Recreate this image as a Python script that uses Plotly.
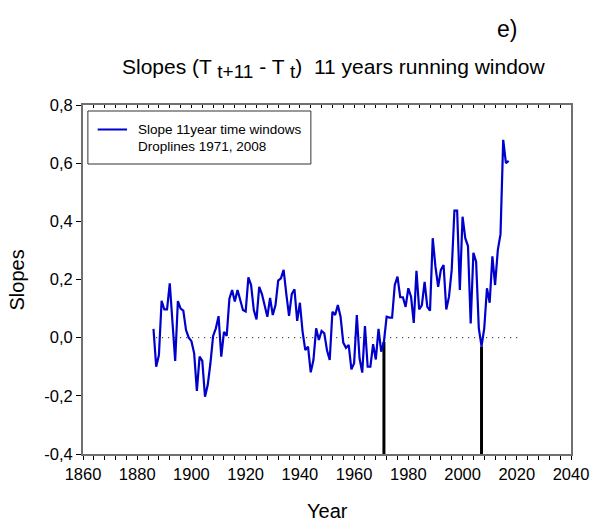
import plotly.graph_objects as go

# ---- data ----
years = list(range(1886, 2018))
slopes = [
    0.03, -0.10, -0.06, 0.127, 0.097, 0.097, 0.187, 0.038, -0.08, 0.126,   # 1886-1895
    0.10, 0.093, 0.026, 0.0, -0.012, -0.054, -0.183, -0.065, -0.08, -0.203,  # 1896-1905
    -0.163, -0.088, 0.006, 0.032, 0.074, -0.065, 0.02, 0.006, 0.134, 0.164,  # 1906-1915
    0.124, 0.164, 0.124, 0.095, 0.09, 0.207, 0.181, 0.095, 0.063, 0.175,     # 1916-1925
    0.15, 0.109, 0.072, 0.137, 0.078, 0.112, 0.196, 0.204, 0.233, 0.15,      # 1926-1935
    0.075, 0.15, 0.166, 0.058, 0.12, 0.02, -0.043, -0.031, -0.119, -0.077,   # 1936-1945
    0.032, -0.008, 0.023, 0.015, -0.043, -0.077, 0.089, 0.078, 0.112, 0.072, # 1946-1955
    -0.017, -0.035, -0.025, -0.109, -0.088, 0.078, -0.071, -0.12, 0.04, -0.10,  # 1956-1965
    -0.10, -0.022, -0.075, 0.03, -0.048, -0.014, 0.072, 0.069, 0.069, 0.181, # 1966-1975
    0.21, 0.139, 0.139, 0.106, 0.17, 0.141, 0.051, 0.23, 0.097, 0.112,       # 1976-1985
    0.192, 0.106, 0.093, 0.342, 0.244, 0.175, 0.233, 0.25, 0.097, 0.141,    # 1986-1995
    0.233, 0.437, 0.437, 0.164, 0.416, 0.342, 0.315, 0.049, 0.292, 0.261,   # 1996-2005
    0.032, -0.03, 0.032, 0.17, 0.12, 0.28, 0.181, 0.301, 0.356, 0.68,       # 2006-2015
    0.60, 0.608,                                                             # 2016-2017
]
dropline_years = [1971, 2007]
zero_line_x = [1887, 2021]
zero_line_y = [0, 0]
x_range = [1860, 2040]
y_range = [-0.4, 0.8]
y_tickvals = [-0.4, -0.2, 0.0, 0.2, 0.4, 0.6, 0.8]
y_ticktext = ["-0,4", "-0,2", "0,0", "0,2", "0,4", "0,6", "0,8"]

FONT = "Liberation Sans, Arial, sans-serif"

fig = go.Figure()

# dotted zero line
fig.add_trace(go.Scatter(x=zero_line_x, y=zero_line_y, mode="lines",
                         line=dict(color="black", width=1, dash="1px,5px"),
                         showlegend=False, hoverinfo="skip"))

# droplines
dx, dy = [], []
for yr in dropline_years:
    v = slopes[years.index(yr)]
    dx += [yr, yr, None]
    dy += [v, y_range[0], None]
fig.add_trace(go.Scatter(x=dx, y=dy, mode="lines",
                         line=dict(color="black", width=3),
                         showlegend=False, hoverinfo="skip"))

# main series
fig.add_trace(go.Scatter(x=years, y=slopes, mode="lines",
                         line=dict(color="#0000cc", width=2.2),
                         showlegend=False))

# invisible trace for top axis
fig.add_trace(go.Scatter(x=[None], y=[None], xaxis="x2", showlegend=False,
                         hoverinfo="skip"))

fig.update_layout(
    width=601, height=522,
    margin=dict(l=83, r=19, t=105, b=68),
    plot_bgcolor="white", paper_bgcolor="white",
    separators=",.",
    font=dict(family=FONT, color="black"),
    showlegend=False,
    xaxis=dict(range=x_range, dtick=20, tick0=1860, ticks="outside", ticklen=4,
               tickcolor="black", showline=True, linecolor="#707070", linewidth=2,
               mirror=True, showgrid=False, zeroline=False,
               tickfont=dict(size=16.5, family=FONT),
               minor=dict(dtick=4, tick0=1860, ticks="outside", ticklen=4, tickcolor="black")),
    xaxis2=dict(range=x_range, overlaying="x", side="top", anchor="y", dtick=4, tick0=1860,
                ticks="inside", ticklen=3, tickcolor="black", showticklabels=False,
                showgrid=False, zeroline=False, showline=False),
    yaxis=dict(range=y_range, tickmode="array", tickvals=y_tickvals, ticktext=y_ticktext,
               ticks="outside", ticklen=5, tickcolor="black", showline=True,
               linecolor="#707070", linewidth=2, mirror=True, showgrid=False,
               zeroline=False, tickfont=dict(size=16.5, family=FONT)),
)

def px2x(px):
    return (px - 83) / 499.0

def py2y(py):
    return (454 - py) / 349.0

title_text = ("Slopes (T <sub><span style='font-size:19px'>t+11</span></sub> - T "
              "<sub><span style='font-size:19px'>t</span></sub>)  11 years running window")

annotations = [
    dict(text="e)", x=px2x(517), y=py2y(29), xref="paper", yref="paper",
         showarrow=False, font=dict(size=23, family=FONT), xanchor="center", yanchor="middle"),
    dict(text=title_text,
         x=px2x(340), y=py2y(68), xref="paper", yref="paper", showarrow=False,
         font=dict(size=21, family=FONT), xanchor="center", yanchor="middle"),
    dict(text="Year", x=px2x(333), y=py2y(511), xref="paper", yref="paper",
         showarrow=False, font=dict(size=20, family=FONT), xanchor="center", yanchor="middle"),
    dict(text="Slopes", x=px2x(16), y=py2y(280), xref="paper", yref="paper", textangle=-90,
         showarrow=False, font=dict(size=20, family=FONT), xanchor="center", yanchor="middle"),
    dict(text="Slope 11year time windows", x=px2x(137), y=py2y(129), xref="paper", yref="paper",
         showarrow=False, font=dict(size=13.5, family=FONT), xanchor="left", yanchor="middle"),
    dict(text="Droplines 1971, 2008", x=px2x(137), y=py2y(146), xref="paper", yref="paper",
         showarrow=False, font=dict(size=13.5, family=FONT), xanchor="left", yanchor="middle"),
]
fig.update_layout(annotations=annotations)

fig.update_layout(shapes=[
    dict(type="rect", xref="paper", yref="paper", x0=px2x(88), x1=px2x(316),
         y0=py2y(164), y1=py2y(111), line=dict(color="#333333", width=1),
         fillcolor="white", layer="above"),
    dict(type="line", xref="paper", yref="paper", x0=px2x(98), x1=px2x(128),
         y0=py2y(129.5), y1=py2y(129.5), line=dict(color="#0000cc", width=2), layer="above"),
])

fig.write_html("out.html")
